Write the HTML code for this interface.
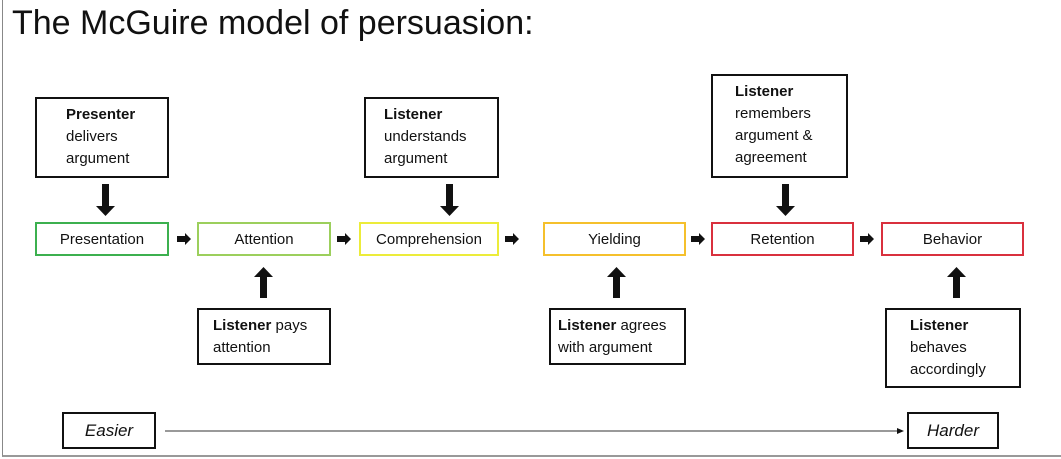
<!DOCTYPE html>
<html><head><meta charset="utf-8"><style>
body{margin:0;width:1061px;height:459px;background:#fff;position:relative;overflow:hidden;font-family:"Liberation Sans",sans-serif;color:#111}
.frame{position:absolute;left:2px;top:-2px;width:1100px;height:457px;border-left:1px solid #888;border-bottom:2px solid #999}
.t{position:absolute;left:12px;top:4px;font-size:34px;}
.b{position:absolute;box-sizing:border-box;border:2px solid #111;font-size:15px;line-height:22px;padding:5px 0 0 0;white-space:nowrap}
.s{position:absolute;box-sizing:border-box;border:2px solid;font-size:15px;text-align:center;line-height:32px;height:34px}
svg{position:absolute;left:0;top:0}
</style></head><body>
<div class="frame"></div>
<div class="t">The McGuire model of persuasion:</div>

<div class="b" style="left:35px;top:97px;width:134px;height:81px;padding-left:29px"><b>Presenter</b><br>delivers<br>argument</div>
<div class="b" style="left:364px;top:97px;width:135px;height:81px;padding-left:18px"><b>Listener</b><br>understands<br>argument</div>
<div class="b" style="left:711px;top:74px;width:137px;height:104px;padding-left:22px"><b>Listener</b><br>remembers<br>argument &amp;<br>agreement</div>
<div class="b" style="left:197px;top:308px;width:134px;height:57px;padding-left:14px"><b>Listener</b> pays<br>attention</div>
<div class="b" style="left:549px;top:308px;width:137px;height:57px;padding-left:7px"><b>Listener</b> agrees<br>with argument</div>
<div class="b" style="left:885px;top:308px;width:136px;height:80px;padding-left:23px"><b>Listener</b><br>behaves<br>accordingly</div>

<div class="s" style="left:35px;top:222px;width:134px;border-color:#3cb04f">Presentation</div>
<div class="s" style="left:197px;top:222px;width:134px;border-color:#9ccf5c">Attention</div>
<div class="s" style="left:359px;top:222px;width:140px;border-color:#ecec3a">Comprehension</div>
<div class="s" style="left:543px;top:222px;width:143px;border-color:#f5c02c">Yielding</div>
<div class="s" style="left:711px;top:222px;width:143px;border-color:#d9303e">Retention</div>
<div class="s" style="left:881px;top:222px;width:143px;border-color:#d9303e">Behavior</div>

<div class="b" style="left:62px;top:412px;width:94px;height:37px;padding:0;text-align:center;line-height:33px;font-style:italic;font-size:17px">Easier</div>
<div class="b" style="left:907px;top:412px;width:92px;height:37px;padding:0;text-align:center;line-height:33px;font-style:italic;font-size:17px">Harder</div>

<svg width="1061" height="459">
<g fill="#111">
<polygon points="102,184 109,184 109,206 115,206 105.5,216 96,206 102,206"/>
<polygon points="446,184 453,184 453,206 459,206 449.5,216 440,206 446,206"/>
<polygon points="782,184 789,184 789,206 795,206 785.5,216 776,206 782,206"/>
<polygon points="260,298 267,298 267,277 273,277 263.5,267 254,277 260,277"/>
<polygon points="613,298 620,298 620,277 626,277 616.5,267 607,277 613,277"/>
<polygon points="953,298 960,298 960,277 966,277 956.5,267 947,277 953,277"/>
<g id="sa"><polygon points="177,236 185,236 185,233 191,239 185,245 185,242 177,242"/></g>
<use href="#sa" x="160"/><use href="#sa" x="328"/><use href="#sa" x="514"/><use href="#sa" x="683"/>
</g>
<line x1="165" y1="431" x2="898" y2="431" stroke="#333" stroke-width="1"/>
<polygon points="904,431 897,428 897,434" fill="#111"/>
</svg>
</body></html>
